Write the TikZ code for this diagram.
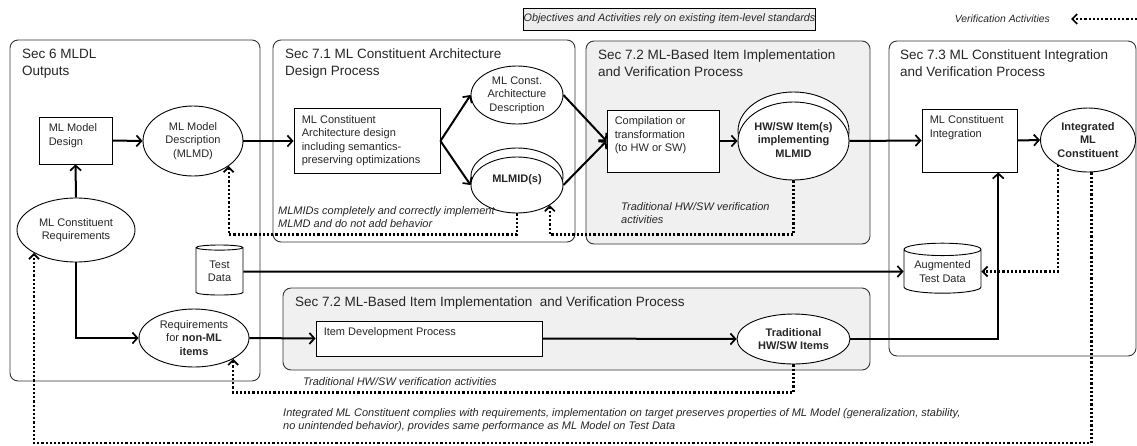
\documentclass[tikz,border=0pt]{standalone}
\usepackage{fontspec}
\setmainfont{Liberation Sans}
\usetikzlibrary{arrows.meta,shapes.geometric,shadows}

% lifts the text of an oval a little
\newcommand\liftup[2]{\raisebox{#1}{\begin{tabular}{@{}c@{}}#2\end{tabular}}}

\begin{document}
\begin{tikzpicture}[x=1pt,y=-1pt,
	every node/.style={font=\fontsize{11}{13.5}\selectfont, text=black!85},
	secbox/.style={draw=black!80, line width=0.9pt, rounded corners=8pt},
	sectitle/.style={anchor=north west, inner sep=0pt, align=left, font=\fontsize{13.5}{16.5}\selectfont},
	procbox/.style={draw, line width=0.9pt, fill=white, inner sep=0pt},
	boxtext/.style={anchor=north west, inner sep=0pt, align=left},
	oval/.style={draw, ellipse, line width=0.9pt, fill=white, inner sep=0pt, align=center},
	boldtext/.style={font=\fontsize{11}{13.5}\selectfont\bfseries},
	stack/.style={oval, copy shadow={shadow xshift=0pt, shadow yshift=#1}},
	stack/.default=9pt,
	store/.style={draw, cylinder, shape border rotate=90, aspect=0.22, line width=0.9pt, fill=white, inner sep=0pt, align=center},
	note/.style={anchor=north west, inner sep=0pt, align=left, font=\fontsize{11}{13.5}\selectfont\itshape},
	flow/.style={line width=2pt, -{Straight Barb[length=5pt,width=11pt,line width=1.7pt]}},
	verif/.style={line width=2.2pt, dash pattern=on 2.2pt off 2pt, -{Straight Barb[length=5pt,width=10pt,line width=1.7pt]}}]
	\useasboundingbox (0,0) rectangle (1137,445);

	% sections
	\draw[secbox, fill=white] (10,40) rectangle (260,381);
	\draw[secbox, fill=white] (273,40) rectangle (575,242);
	\draw[secbox, fill=black!6] (586,41) rectangle (870,244);
	\draw[secbox, fill=white] (889,41) rectangle (1136,356);
	\draw[secbox, fill=black!6] (283,288) rectangle (870,370);
	\node[sectitle] (t6) at (22,49) {Sec 6 MLDL\\Outputs};
	\node[sectitle] (t71) at (285,49) {Sec 7.1 ML Constituent Architecture\\Design Process};
	\node[sectitle] (t72) at (598,50) {Sec 7.2 ML-Based Item Implementation\\and Verification Process};
	\node[sectitle] (t73) at (900,50) {Sec 7.3 ML Constituent Integration\\and Verification Process};
	\node[sectitle] (t72b) at (295,297) {Sec 7.2 ML-Based Item Implementation ~and Verification Process};

	% legend
	\node[draw, fill=black!7, line width=0.8pt, minimum width=245, minimum height=22, inner sep=0pt, font=\fontsize{10.8}{12}\selectfont\itshape] (legend) at (669.5,19) {Objectives and Activities rely on existing item-level standards};
	\node[note, anchor=east, font=\fontsize{10.4}{12}\selectfont\itshape] (legendnote) at (1050,19) {Verification Activities};
	\coordinate (vfrom) at (1137,19);
	\coordinate (vto) at (1071,19);

	% Sec 6
	\node[procbox, minimum width=73, minimum height=47] (design) at (75.5,140.5) {};
	\node[boxtext] (designtxt) at ([shift={(10,7)}]design.north west) {ML Model\\Design};
	\node[oval, minimum width=100, minimum height=70] (mlmd) at (193,141) {ML Model\\Description\\(MLMD)};
	\node[oval, minimum width=118, minimum height=64] (req) at (76,230) {ML Constituent\\Requirements};
	\node[store, minimum width=47, minimum height=50] (testdata) at (219.5,271.5) {Test\\Data};
	\node[oval, minimum width=110, minimum height=58] (nonml) at (194,338) {Requirements\\for \textbf{non-ML}\\\textbf{items}};

	% Sec 7.1
	\node[procbox, minimum width=146, minimum height=65] (archdesign) at (367,141) {};
	\node[boxtext] (archtxt) at ([shift={(8,7)}]archdesign.north west) {ML Constituent\\Architecture design\\including semantics-\\preserving optimizations};
	\node[oval, minimum width=92, minimum height=58] (archdesc) at (517,95) {ML Const.\\Architecture\\Description};
	\node[stack, minimum width=92, minimum height=56] (mlmid) at (517,185) {\liftup{15pt}{\textbf{MLMID(s)}}};

	% Sec 7.2
	\node[procbox, minimum width=112, minimum height=62] (compile) at (663,141) {};
	\node[boxtext] (compiletxt) at ([shift={(8,7)}]compile.north west) {Compilation or\\transformation\\(to HW or SW)};
	\node[stack=10pt, minimum width=111, minimum height=78] (hwsw) at (793.5,141) {\liftup{7pt}{\textbf{HW/SW Item(s)}\\\textbf{implementing}\\\textbf{MLMID}}};
	\node[procbox, minimum width=226, minimum height=35] (itemdev) at (429,338.5) {};
	\node[boxtext] (itemdevtxt) at ([shift={(8,7)}]itemdev.north west) {Item Development Process};
	\node[oval, boldtext, minimum width=113, minimum height=50] (trad) at (793.5,339) {Traditional\\HW/SW Items};

	% Sec 7.3
	\node[procbox, minimum width=95, minimum height=63] (integ) at (969.5,140.5) {};
	\node[boxtext] (integtxt) at ([shift={(8,7)}]integ.north west) {ML Constituent\\Integration};
	\node[oval, boldtext, minimum width=95, minimum height=64] (integrated) at (1088,140) {Integrated\\ML\\Constituent};
	\node[store, minimum width=77, minimum height=50] (augmented) at (942.5,271.5) {Augmented\\Test Data};

	% notes
	\node[note] (mlmidnote) at (278,206) {MLMIDs completely and correctly implement\\MLMD and do not add behavior};
	\node[note] (hwnote) at (621,202) {Traditional HW/SW verification\\activities};
	\node[note] (tradnote) at (303,377) {Traditional HW/SW verification activities};
	\node[note] (intnote) at (283,408) {Integrated ML Constituent complies with requirements, implementation on target preserves properties of ML Model (generalization, stability,\\no unintended behavior), provides same performance as ML Model on Test Data};

	% flow
	\draw[flow] (design.east) -- (mlmd.west);
	\draw[flow] (req.north) -- (design.south);
	\draw[flow] (mlmd.east) -- (archdesign.west);
	\draw[flow] (archdesign.east) -- (archdesc.west);
	\draw[flow] (archdesign.east) -- (mlmid.west);
	\draw[flow] (archdesc.east) -- (compile.west);
	\draw[flow] (mlmid.east) -- (compile.west);
	\draw[flow] (compile.east) -- (hwsw.west);
	\draw[flow] (hwsw.east) -- (integ.west);
	\draw[flow] (integ.east) -- (integrated.west);
	\draw[flow] (req.south) |- (nonml.west);
	\draw[flow] (nonml.east) -- (itemdev.west);
	\draw[flow] (itemdev.east) -- (trad.west);
	\draw[flow] (trad.east) -| (integ.-48);
	\draw[flow] (testdata.east) -- (augmented.west);

	% verification
	\draw[verif] (mlmid.south) -- ++(0,21) -| (mlmd.south east);
	\draw[verif] (hwsw.south) -- ++(0,54) -| (mlmid.south east);
	\draw[verif] (integrated.-140) |- (augmented.east);
	\draw[verif] (integrated.-84) -- ++(0,271) -| (req.south west);
	\draw[verif] (trad.south) -- ++(0,28) -| (nonml.south east);
	\draw[verif] (vfrom) -- (vto);
\end{tikzpicture}
\end{document}
